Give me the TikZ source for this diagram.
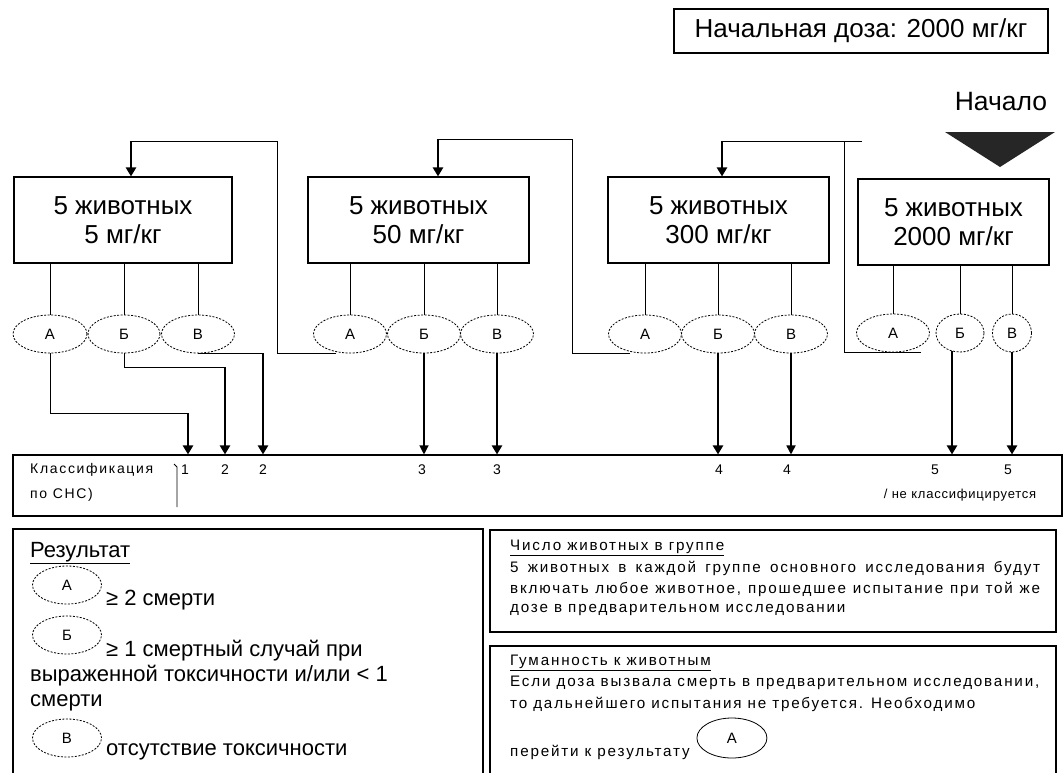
\documentclass[tikz,border=0pt]{standalone}
\usepackage{fontspec}
\setmainfont{Liberation Sans}
\newfontfamily\spacedfont[LetterSpace=12]{Liberation Sans}
\newfontfamily\tightfont[LetterSpace=6]{Liberation Sans}
\usetikzlibrary{arrows.meta,calc,shapes.geometric}
\begin{document}
\begin{tikzpicture}[x=1pt,y=-1pt,
  box/.style={draw, line width=1.1pt, minimum height=86pt, align=center, inner sep=0pt,
    font=\fontsize{26}{29}\selectfont},
  ell/.style={draw, ellipse, dash pattern=on 2pt off 1.5pt, line width=0.8pt,
    minimum height=38pt, minimum width=73pt, inner sep=0pt, font=\fontsize{15}{15}\selectfont},
  ln/.style={line width=1pt},
  arr/.style={line width=1.2pt, -{Triangle[length=9pt,width=9pt]}},
  marr/.style={line width=1.7pt, -{Triangle[length=9pt,width=9pt]}},
  tarr/.style={line width=2.3pt, -{Triangle[length=9pt,width=10pt]}},
  lt/.style={anchor=west, inner sep=0pt, font=\fontsize{22}{22}\selectfont},
  ct/.style={inner sep=0pt, font=\spacedfont\fontsize{14}{14}\selectfont},
  pt/.style={anchor=west, inner sep=0pt, font=\spacedfont\fontsize{15.2}{15.2}\selectfont},
  frame/.style={line width=1.1pt}
]
\useasboundingbox (0,0) rectangle (1063,772);

% header
\node[box, minimum width=374pt, minimum height=44pt, font=\fontsize{26}{29}\selectfont] (dose) at (861,31) {Начальная доза: 2000 мг/кг};
\node[inner sep=0pt, font=\fontsize{26.5}{29}\selectfont] (start) at (1001,102) {Начало};
\fill[black!85] (945,132) -- (1055,132) -- (1000,167) -- cycle;

% groups
\node[box, minimum width=218pt] (g1) at (123,220) {5 животных\\5 мг/кг};
\node[box, minimum width=221pt] (g2) at (418.5,220) {5 животных\\50 мг/кг};
\node[box, minimum width=221pt] (g3) at (718.5,220) {5 животных\\300 мг/кг};
\node[box, minimum width=191pt] (g4) at (953.5,222) {5 животных\\2000 мг/кг};

% outcome ellipses
\node[ell, minimum width=74pt] (a1) at (50,334) {А};
\node[ell, minimum width=72pt] (b1) at (124,334) {Б};
\node[ell] (v1) at (198,334) {В};
\node[ell] (a2) at (350,334) {А};
\node[ell] (b2) at (424,334) {Б};
\node[ell] (v2) at (497,334) {В};
\node[ell] (a3) at (645,334) {А};
\node[ell] (b3) at (718,334) {Б};
\node[ell] (v3) at (791,334) {В};
\node[ell] (a4) at (893,333) {А};
\node[ell, minimum width=48pt] (b4) at (960,333) {Б};
\node[ell, minimum width=39pt] (v4) at (1012,333) {В};

\foreach \e/\g in {a1/g1,b1/g1,v1/g1,a2/g2,b2/g2,v2/g2,a3/g3,b3/g3,v3/g3,a4/g4,b4/g4,v4/g4}
  \draw[ln] (\e.north) -- (\e.north |- \g.south);

% feedback lines (result A -> lower dose)
\coordinate (u1) at (277,141); \coordinate (p1) at (131,141);
\draw[ln] ($(a2.south)+(-14,0)$) -| (u1) -- (p1);
\draw[tarr] (p1) -- (p1 |- g1.north);
\coordinate (u2) at (572,139); \coordinate (p2) at (438,139);
\draw[ln] ($(a3.south)+(-15,0)$) -| (u2) -- (p2);
\draw[tarr] (p2) -- (p2 |- g2.north);
\coordinate (u3) at (844,141); \coordinate (p3) at (722,141); \coordinate (s3) at (862,141);
\draw[ln] ($(a4.south)+(28,0)$) -| (u3);
\draw[ln] (s3) -- (p3);
\draw[tarr] (p3) -- (p3 |- g3.north);

% classification bar
\node[draw, frame, minimum width=1049pt, minimum height=61pt, inner sep=0pt] (cls) at (537.5,485.5) {};
\coordinate (k1) at (188,413);
\draw[ln] (a1.south) |- (k1);
\draw[tarr] (k1) -- (k1 |- cls.north);
\coordinate (k2) at (225,367);
\draw[ln] (b1.south) |- (k2);
\draw[tarr] (k2) -- (k2 |- cls.north);
\coordinate (k3) at (263,353);
\draw[ln] (v1.south) -- (v1.south -| k3);
\draw[tarr] (v1.south -| k3) -- (k3 |- cls.north);
\draw[arr] (b2.south) -- (b2.south |- cls.north);
\draw[tarr] (v2.south) -- (v2.south |- cls.north);
\draw[tarr] (b3.south) -- (b3.south |- cls.north);
\draw[marr] (v3.south) -- (v3.south |- cls.north);
\coordinate (q4) at ($(b4.south)+(-8,-1)$);
\draw[tarr] (q4) -- (q4 |- cls.north);
\draw[tarr] (v4.south) -- (v4.south |- cls.north);

\node[ct, anchor=west] (cl1) at (30,470) {Классификация};
\node[ct, anchor=west] (cl2) at (30,495) {по СНС)};
\draw[line width=0.8pt] (174,464) -- (177,467) -- (177,507);
\node[ct] (n1) at (185,470) {1};
\node[ct] (n2) at (225,470) {2};
\node[ct] (n3) at (263,470) {2};
\node[ct] (n4) at (422,470) {3};
\node[ct] (n5) at (497,470) {3};
\node[ct] (n6) at (719,470) {4};
\node[ct] (n7) at (787,470) {4};
\node[ct] (n8) at (935,470) {5};
\node[ct] (n9) at (1008,470) {5};
\node[inner sep=0pt, font=\tightfont\fontsize{13}{13}\selectfont] (ncl) at (960,495) {/ не классифицируется};

% legend box
\draw[frame] (13,775) -- (13,529) -- (483,529) -- (483,775);
\node[lt] (res) at (30,553) {\underline{Результат}};
\node[ell, minimum width=69pt] (la) at (67,585) {А};
\node[lt] (lat) at (106,600) {≥ 2 смерти};
\node[ell, minimum width=69pt] (lb) at (67,635) {Б};
\node[lt] (lbt1) at (106,651) {≥ 1 смертный случай при};
\node[lt] (lbt2) at (30,676) {выраженной токсичности и/или < 1};
\node[lt] (lbt3) at (30,703) {смерти};
\node[ell, minimum width=69pt] (lv) at (67,738) {В};
\node[lt] (lvt) at (106,752) {отсутствие токсичности};

% right boxes
\draw[frame] (490,530) rectangle (1056,632);
\node[pt] (h1) at (510,548) {\underline{Число животных в группе}};
\node[pt] (t1) at (510,568) {\makebox[530pt][s]{5 животных в каждой группе основного исследования будут}};
\node[pt] (t2) at (510,589) {\makebox[530pt][s]{включать любое животное, прошедшее испытание при той же}};
\node[pt] (t3) at (510,610) {дозе в предварительном исследовании};
\draw[frame] (490,775) -- (490,646) -- (1056,646) -- (1056,775);
\node[pt] (h2) at (510,663) {\underline{Гуманность к животным}};
\node[pt] (t4) at (510,683) {Если доза вызвала смерть в предварительном исследовании,};
\node[pt] (t5) at (510,704) {то дальнейшего испытания не требуется. Необходимо};
\node[pt] (t6) at (510,752) {перейти к результату};
\node[ell, solid, minimum width=70pt, minimum height=40pt] (ha) at ($(t6.east)+(42,-14)$) {А};
\end{tikzpicture}
\end{document}
